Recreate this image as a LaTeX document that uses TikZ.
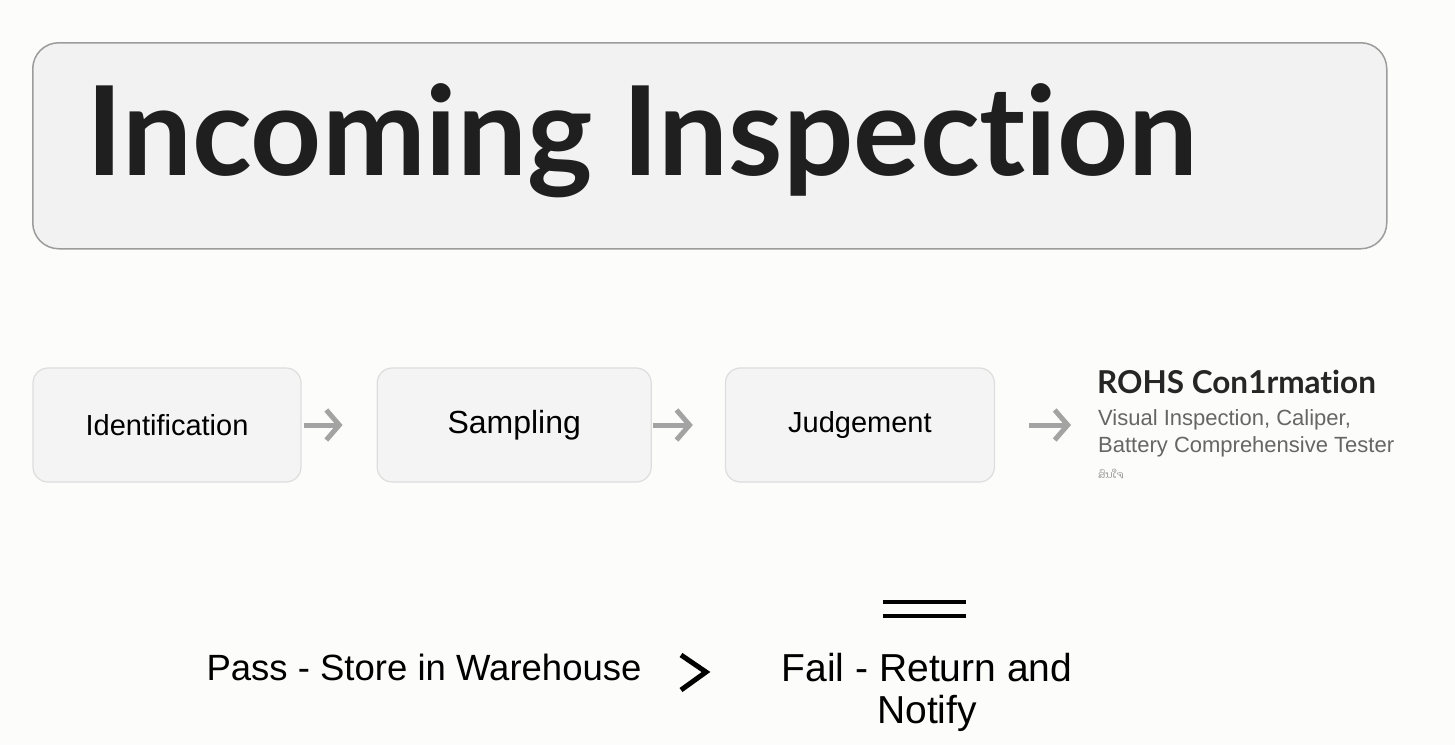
\documentclass[tikz,border=0pt]{standalone}
\usepackage{fontspec}
\setmainfont{Liberation Sans}
\newfontfamily\titlefont{Lato}[Ligatures = CommonOff]
\newfontfamily\laofont[Script=Lao]{Dhyana}
\usetikzlibrary{positioning, arrows.meta}
\definecolor{pagebg}{HTML}{FCFCFB}
\definecolor{titlefill}{HTML}{F2F2F2}
\definecolor{titleline}{HTML}{9C9C9C}
\definecolor{stepfill}{HTML}{F4F4F4}
\definecolor{stepline}{HTML}{DDDDDD}
\definecolor{arrowgrey}{HTML}{A3A3A3}
\definecolor{toolgrey}{HTML}{666666}
\tikzset{stepbox/.style = {draw = stepline, fill = stepfill, line width = 1.2pt,
    rounded corners = 15pt, minimum height = 114pt, inner sep = 0pt,
    font = \fontsize{29}{34}\selectfont}
}
\tikzset{flowarrow/.style = {draw = arrowgrey, line width = 5pt,
    -{Straight Barb[length = 13pt, width = 30pt]}}
}

\begin{document}
\begin{tikzpicture}[x = 1pt, y = -1pt]

    \useasboundingbox[fill = pagebg] (0,0) rectangle (1455,745);

    % heading
    \node (head) [draw = titleline, fill = titlefill, line width = 1.5pt,
        rounded corners = 26pt, minimum width = 1354pt, minimum height = 206pt,
        anchor = north west] at (32,42) {};
    \node (headtext) [anchor = base west, inner sep = 0pt, text = black!88,
        font = \titlefont\bfseries\fontsize{124}{130}\selectfont] at (86,175) {Incoming Inspection};

    % steps
    \node (ident) [stepbox, minimum width = 268pt] at (167,425) {Identification};
    \node (samp) [stepbox, minimum width = 274pt, right = 75pt of ident,
        font = \fontsize{32}{36}\selectfont] {Sampling};
    \node (judge) [stepbox, minimum width = 269pt, right = 73pt of samp] {Judgement};

    \node (rohs) [anchor = base west, inner sep = 0pt, text = black!85,
        font = \titlefont\bfseries\fontsize{31.5}{36}\selectfont] at (1097,393) {ROHS Con1rmation};
    \node (tools) [anchor = north west, inner sep = 0pt, align = left, text = toolgrey,
        font = \fontsize{22}{27}\selectfont] at (1098,409)
        {Visual Inspection, Caliper,\\Battery Comprehensive Tester};
    \node (note) [inner sep = 0pt, text = toolgrey!70,
        font = \laofont\fontsize{10}{12}\selectfont,
        below right = 12pt and 0pt of tools.south west] {ສົນໃຈ};

    \draw[flowarrow, shorten < = 2pt, shorten > = 34pt] (ident) -- (samp);
    \draw[flowarrow, shorten < = 1pt, shorten > = 32pt] (samp) -- (judge);
    \draw[flowarrow, shorten < = 34pt, shorten > = 26pt] (judge.east) -- (judge.east -| rohs.west);

    % outcomes
    \node (pass) [anchor = base, inner sep = 0pt,
        font = \fontsize{36.5}{42}\selectfont] at (424,680) {Pass - Store in Warehouse};
    \node (fail) [anchor = north, inner sep = 0pt, align = center,
        font = \fontsize{39}{42}\selectfont] at (927,653) {Fail - Return and\\Notify};

    \draw[line width = 5pt] (681,655) -- (706,672) -- (681,690);
    \draw[line width = 4pt] (883,602) -- (966,602) (883,616) -- (966,616);

\end{tikzpicture}
\end{document}
